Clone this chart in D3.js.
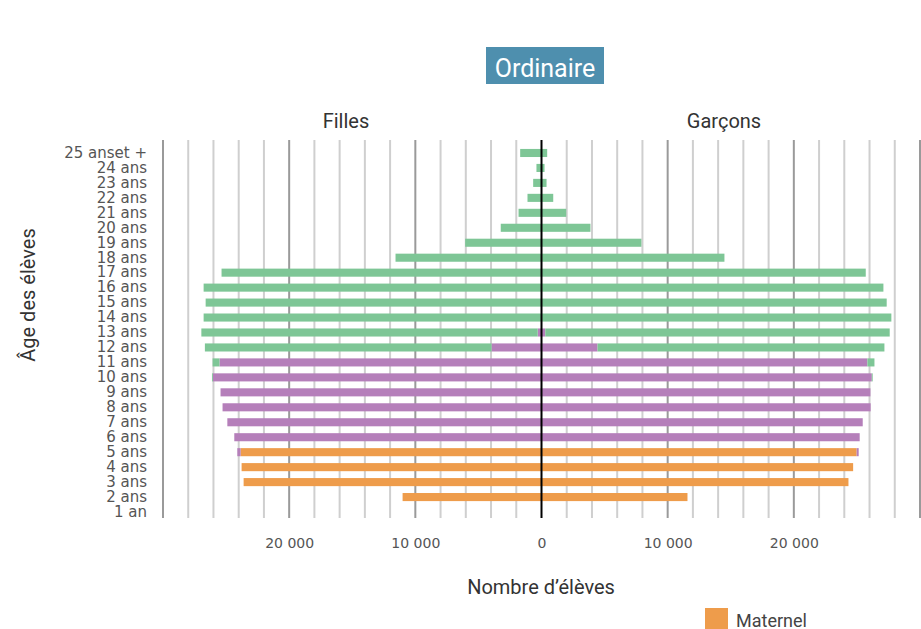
<!DOCTYPE html>
<html>
<head>
<meta charset="utf-8">
<script src="https://cdn.jsdelivr.net/npm/d3@7"></script>
<style>
  body { margin: 0; background: #fff; }
  .tick text { fill: #555; }
</style>
</head>
<body>
<script>
var width = 921,
    height = 629;

// ages from bottom (1 an) to top (25 ans et +)
var ages = ["1 an", "2 ans", "3 ans", "4 ans", "5 ans", "6 ans", "7 ans", "8 ans", "9 ans",
  "10 ans", "11 ans", "12 ans", "13 ans", "14 ans", "15 ans", "16 ans", "17 ans", "18 ans",
  "19 ans", "20 ans", "21 ans", "22 ans", "23 ans", "24 ans", "25 anset +"];

var fillesMaternel   = [0, 11010, 23610, 23770, 23850, 0, 0, 0, 0, 0, 0, 0, 0, 0, 0, 0, 0, 0, 0, 0, 0, 0, 0, 0, 0];
var fillesPrimaire   = [0, 0, 0, 0, 260, 24350, 24900, 25280, 25440, 26050, 25520, 3960, 300, 0, 0, 0, 0, 0, 0, 0, 0, 0, 0, 0, 0];
var fillesSecondaire = [0, 0, 0, 0, 0, 0, 0, 0, 0, 70, 550, 22720, 26660, 26780, 26620, 26780, 25360, 11570, 6050, 3230, 1820, 1110, 660, 400, 1690];

var garconsMaternel   = [0, 11570, 24330, 24700, 24980, 0, 0, 0, 0, 0, 0, 0, 0, 0, 0, 0, 0, 0, 0, 0, 0, 0, 0, 0, 0];
var garconsPrimaire   = [0, 0, 0, 0, 160, 25220, 25460, 26090, 26070, 26180, 25830, 4440, 300, 0, 0, 0, 0, 0, 0, 0, 0, 0, 0, 0, 0];
var garconsSecondaire = [0, 0, 0, 0, 0, 0, 0, 0, 0, 70, 560, 22740, 27300, 27730, 27360, 27100, 25700, 14500, 7920, 3880, 1960, 930, 400, 240, 450];

var xTicks = [-20000, -10000, 0, 10000, 20000];
var keys = ["maternel", "primaire", "secondaire"];
var colors = { maternel: "#ee9c4b", primaire: "#b57fba", secondaire: "#7ec696" };

var fr = d3.formatLocale({ decimal: ",", thousands: "\u00a0", grouping: [3], currency: ["", " €"] });
var fmt = fr.format(",");

var x = d3.scaleLinear()
  .domain([-30000, 30000])
  .range([163, 920]);

var y = d3.scaleBand()
  .domain(ages.slice().reverse())
  .range([145.5, 519.5])
  .paddingInner(0.46)
  .paddingOuter(0.23);

var svg = d3.select("body").append("svg")
  .attr("width", width)
  .attr("height", height)
  .style("font-family", "Roboto, sans-serif");

// grid
svg.append("g")
  .selectAll("line")
  .data(d3.range(-30000, 30001, 2000).filter(function(d) { return d !== 0; }))
  .enter().append("line")
    .attr("x1", function(d) { return x(d); })
    .attr("x2", function(d) { return x(d); })
    .attr("y1", 140)
    .attr("y2", 518)
    .attr("stroke", function(d) { return d % 10000 === 0 ? "#9a9a9a" : "#cfcfcf"; })
    .attr("stroke-width", 2);

function rows(m, p, s) {
  return ages.map(function(a, i) { return { age: a, maternel: m[i], primaire: p[i], secondaire: s[i] }; });
}

var stack = d3.stack().keys(keys);
var sides = [
  { sign: -1, series: stack(rows(fillesMaternel, fillesPrimaire, fillesSecondaire)) },
  { sign: 1, series: stack(rows(garconsMaternel, garconsPrimaire, garconsSecondaire)) }
];

sides.forEach(function(side) {
  svg.append("g")
    .selectAll("g")
    .data(side.series)
    .enter().append("g")
      .attr("fill", function(d) { return colors[d.key]; })
    .selectAll("rect")
    .data(function(d) { return d; })
    .enter().append("rect")
      .attr("x", function(d) { return Math.min(x(side.sign * d[0]), x(side.sign * d[1])); })
      .attr("width", function(d) { return Math.abs(x(side.sign * d[1]) - x(side.sign * d[0])); })
      .attr("y", function(d) { return y(d.data.age); })
      .attr("height", y.bandwidth());
});

// center line
svg.append("line")
  .attr("x1", x(0)).attr("x2", x(0))
  .attr("y1", 140).attr("y2", 518)
  .attr("stroke", "#000")
  .attr("stroke-width", 2);

// axes
var xAxis = svg.append("g")
  .attr("transform", "translate(0,518)")
  .call(d3.axisBottom(x).tickValues(xTicks).tickSize(0).tickPadding(20)
    .tickFormat(function(d) { return fmt(Math.abs(d)); }));
xAxis.select(".domain").remove();
xAxis.selectAll("text")
  .style("font-family", "'DejaVu Sans', sans-serif")
  .style("font-size", "14px");

var yAxis = svg.append("g")
  .attr("transform", "translate(163,0)")
  .call(d3.axisLeft(y).tickSize(0).tickPadding(16));
yAxis.select(".domain").remove();
yAxis.selectAll("text")
  .style("font-family", "'DejaVu Sans', sans-serif")
  .style("font-size", "15px");

// titles
svg.append("rect")
  .attr("x", 486).attr("y", 47)
  .attr("width", 118).attr("height", 37)
  .attr("fill", "#4e8fae");
svg.append("text")
  .attr("x", 545).attr("y", 77)
  .attr("text-anchor", "middle")
  .attr("fill", "#fff")
  .style("font-size", "25px")
  .text("Ordinaire");

svg.append("text")
  .attr("x", 346).attr("y", 128)
  .attr("text-anchor", "middle")
  .attr("fill", "#333")
  .style("font-size", "20px")
  .text("Filles");
svg.append("text")
  .attr("x", 724).attr("y", 128)
  .attr("text-anchor", "middle")
  .attr("fill", "#333")
  .style("font-size", "20px")
  .text("Garçons");

svg.append("text")
  .attr("transform", "translate(35,295) rotate(-90)")
  .attr("text-anchor", "middle")
  .attr("fill", "#333")
  .style("font-size", "20px")
  .text("Âge des élèves");

svg.append("text")
  .attr("x", 541).attr("y", 594)
  .attr("text-anchor", "middle")
  .attr("fill", "#333")
  .style("font-size", "20px")
  .text("Nombre d’élèves");

// legend (only first entry fits)
svg.append("rect")
  .attr("x", 705).attr("y", 608)
  .attr("width", 23).attr("height", 23)
  .attr("fill", colors.maternel);
svg.append("text")
  .attr("x", 736).attr("y", 627)
  .attr("fill", "#444")
  .style("font-size", "18px")
  .text("Maternel");
</script>
</body>
</html>
